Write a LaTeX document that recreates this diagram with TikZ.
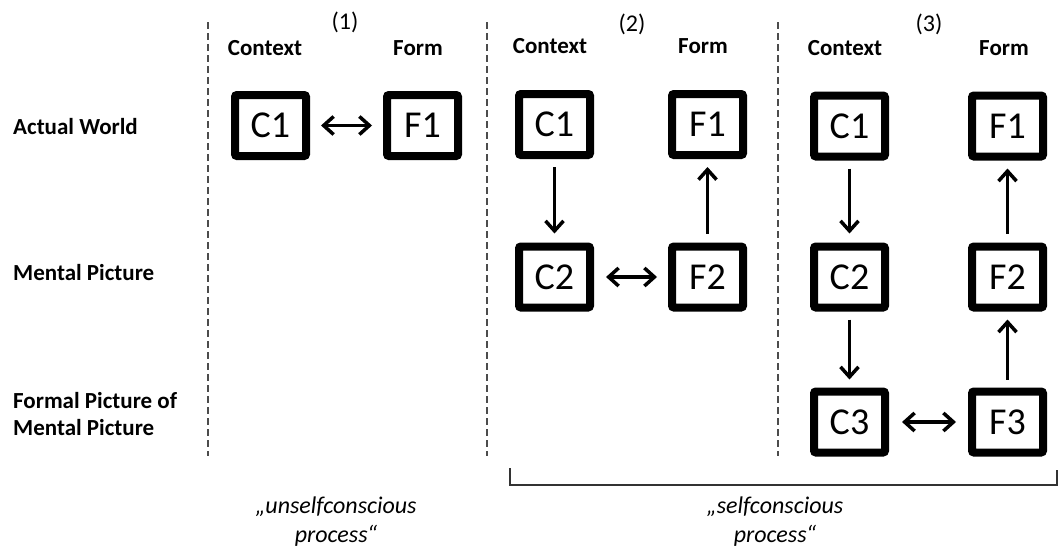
\documentclass[tikz,border=0pt]{standalone}
\usepackage{fontspec}
\setmainfont{Carlito}
\usetikzlibrary{arrows.meta}
\begin{document}
\begin{tikzpicture}[x=1pt,y=-1pt,
  txt/.style={font=\fontsize{24}{28}\selectfont, inner sep=0pt},
  head/.style={txt, font=\fontsize{23}{27}\selectfont\bfseries},
  rowlbl/.style={head, anchor=west, align=left},
  stage/.style={txt},
  note/.style={font=\fontsize{24}{29}\selectfont\itshape, align=center, inner sep=0pt},
  cell/.style={draw=black, line width=8pt, rounded corners=2pt, minimum width=71pt,
    minimum height=61pt, inner sep=0pt, font=\fontsize{38}{42}\selectfont},
  sep/.style={draw=black!70, line width=2pt, dash pattern=on 7pt off 4pt},
  tip/.style={Straight Barb[length=10pt,width=18pt,line width=3.5pt]},
  flow/.style={line width=3pt, -{Straight Barb[length=10pt,width=18pt,line width=3.5pt]}},
  both/.style={line width=3.5pt, {Straight Barb[length=10pt,width=18pt,line width=3.5pt]}-{Straight Barb[length=10pt,width=18pt,line width=3.5pt]}},
  brace/.style={draw=black!80, line width=2pt}]
\useasboundingbox (0,0) rectangle (1058,549);

% separators between the three stages
\coordinate (s1t) at (208,22);  \coordinate (s1b) at (208,456);
\coordinate (s2t) at (487,22);  \coordinate (s2b) at (487,456);
\coordinate (s3t) at (778,22);  \coordinate (s3b) at (778,456);
\draw[sep] (s1t) -- (s1b);
\draw[sep] (s2t) -- (s2b);
\draw[sep] (s3t) -- (s3b);

% row labels
\node[rowlbl] (rw1) at (13,127) {Actual World};
\node[rowlbl] (rw2) at (13,273) {Mental Picture};
\node[rowlbl] (rw3) at (13,414) {Formal Picture of\\Mental Picture};

% stage numbers and column heads
\node[stage] (n1) at (345,22) {(1)};
\node[stage] (n2) at (632,24) {(2)};
\node[stage] (n3) at (929,24) {(3)};
\node[head] (h1c) at (265,48) {Context};
\node[head] (h1f) at (418,48) {Form};
\node[head] (h2c) at (550,46) {Context};
\node[head] (h2f) at (703,46) {Form};
\node[head] (h3c) at (845,48) {Context};
\node[head] (h3f) at (1004,48) {Form};

% stage 1
\node[cell] (aC1) at (270.5,125.5) {C1};
\node[cell] (aF1) at (422.5,125.5) {F1};
\draw[both, shorten <=11pt, shorten >=11pt] (aC1) -- (aF1);

% stage 2
\node[cell] (bC1) at (554.5,124.5) {C1};
\node[cell] (bF1) at (707.5,124.5) {F1};
\node[cell] (bC2) at (554.5,277) {C2};
\node[cell] (bF2) at (707.5,277) {F2};
\draw[flow, shorten <=8pt, shorten >=9pt] (bC1) -- (bC2);
\draw[flow, shorten <=9pt, shorten >=8pt] (bF2) -- (bF1);
\draw[both, shorten <=12pt, shorten >=11pt] (bC2) -- (bF2);

% stage 3
\node[cell] (cC1) at (849.5,126) {C1};
\node[cell] (cF1) at (1007.5,126) {F1};
\node[cell] (cC2) at (849.5,277) {C2};
\node[cell] (cF2) at (1007.5,277) {F2};
\node[cell] (cC3) at (849.5,422) {C3};
\node[cell] (cF3) at (1007.5,422) {F3};
\draw[flow, shorten <=8pt, shorten >=9pt] (cC1) -- (cC2);
\draw[flow, shorten <=8pt, shorten >=8pt] (cC2) -- (cC3);
\draw[flow, shorten <=8pt, shorten >=8pt] (cF3) -- (cF2);
\draw[flow, shorten <=9pt, shorten >=8pt] (cF2) -- (cF1);
\draw[both, shorten <=13pt, shorten >=12pt] (cC3) -- (cF3);

% bracket under stages 2 and 3
\coordinate (bl) at (510,468);
\coordinate (blc) at (510,485);
\coordinate (brc) at (1057,485);
\coordinate (br) at (1057,470);
\draw[brace] (bl) -- (blc) -- (brc) -- (br);

% process notes
\node[note] (u) at (336,522) {„unselfconscious\\process“};
\node[note] (s) at (775,522) {„selfconscious\\process“};
\end{tikzpicture}
\end{document}
